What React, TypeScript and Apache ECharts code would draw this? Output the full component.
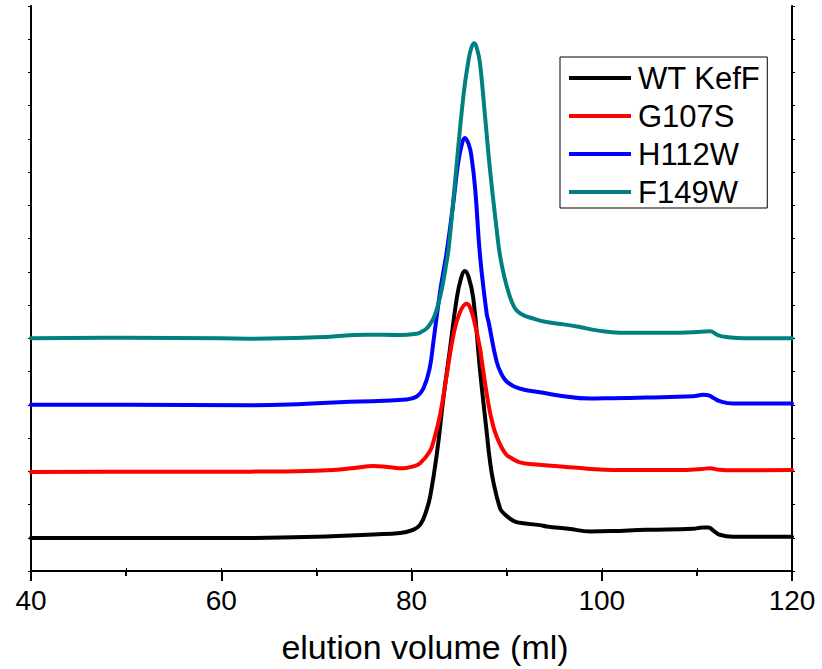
import React, { useEffect, useRef } from "react";
import * as echarts from "echarts";

const seriesNames = ["WT KefF", "G107S", "H112W", "F149W"];
const seriesColors = ["#000000", "#FF0000", "#0000FF", "#008080"];

const xTicks = [40, 60, 80, 100, 120];

const wtKefF: [number, number][] = [
  [40, 0.99], [50, 0.99], [60, 0.99], [65, 1.0], [70, 1.03], [73.5, 1.07], [76, 1.1],
  [78.8, 1.14], [80, 1.22], [80.9, 1.39], [81.6, 1.85], [82.0, 2.3], [82.65, 3.49],
  [83.35, 5.19], [84.05, 6.69], [84.75, 8.19], [85.2, 8.8], [85.6, 9.03], [86.0, 8.85],
  [86.5, 8.2], [87.2, 6.05], [87.9, 4.19], [88.25, 3.3], [88.6, 2.69], [89.3, 1.89],
  [89.65, 1.75], [90.7, 1.51], [91.4, 1.45], [93.5, 1.38], [94.2, 1.34], [96.5, 1.27],
  [98.8, 1.19], [101, 1.2], [104.7, 1.24], [109.6, 1.27], [110.6, 1.31], [111.2, 1.31],
  [111.8, 1.2], [112.4, 1.09], [113.8, 1.03], [116, 1.03], [120, 1.03],
];

const g107S: [number, number][] = [
  [40, 2.98], [50, 2.99], [60, 2.99], [63, 2.99], [68, 3.0], [71.8, 3.04], [74, 3.1],
  [76, 3.16], [77.5, 3.13], [79.1, 3.09], [80.2, 3.15], [80.9, 3.24], [81.9, 3.59],
  [82.3, 3.89], [83.0, 4.69], [83.7, 5.89], [84.4, 7.09], [85.1, 7.79], [85.8, 8.04],
  [86.2, 7.9], [86.7, 7.39], [87.2, 6.7], [87.4, 6.3], [88.1, 5.0], [88.6, 4.35],
  [88.95, 4.05], [89.5, 3.7], [90.0, 3.49], [90.35, 3.42], [91.4, 3.27], [92.8, 3.21],
  [96.0, 3.14], [98.5, 3.08], [101.2, 3.04], [105, 3.04], [108.2, 3.04], [110.5, 3.07],
  [111.4, 3.09], [112.2, 3.05], [113.1, 3.03], [120, 3.04],
];

const h112W: [number, number][] = [
  [40, 5.0], [50, 5.0], [63, 4.99], [68, 5.02], [73.5, 5.09], [79.5, 5.16], [80.55, 5.25],
  [81.25, 5.49], [81.9, 6.09], [82.3, 6.89], [83.0, 8.39], [83.7, 9.6], [84.4, 11.09],
  [84.9, 12.28], [85.3, 12.85], [85.6, 13.03], [86.0, 12.85], [86.3, 12.48], [86.7, 11.48],
  [87.2, 9.5], [87.9, 7.75], [88.1, 7.5], [88.95, 6.3], [89.5, 5.9], [90.0, 5.7],
  [90.8, 5.55], [91.75, 5.46], [93.5, 5.38], [95.3, 5.29], [98.8, 5.19], [101, 5.2],
  [104.7, 5.22], [109.6, 5.26], [110.7, 5.3], [111.2, 5.29], [111.8, 5.2], [112.4, 5.11],
  [113.8, 5.04], [120, 5.04],
];

const f149W: [number, number][] = [
  [40, 7.0], [50, 7.02], [60, 7.0], [63, 6.99], [70, 7.03], [75.3, 7.11], [78.8, 7.1],
  [80.55, 7.14], [81.0, 7.19], [81.6, 7.3], [82.0, 7.45], [82.4, 7.66], [82.8, 8.02],
  [83.2, 8.5], [83.6, 9.15], [83.9, 9.7], [84.6, 11.78], [85.45, 14.28], [86.0, 15.38],
  [86.3, 15.75], [86.6, 15.88], [86.9, 15.7], [87.2, 15.28], [87.7, 13.78], [88.25, 12.08],
  [88.95, 10.28], [89.3, 9.5], [89.8, 8.8], [90.35, 8.25], [90.8, 7.94], [91.2, 7.8],
  [91.8, 7.69], [92.5, 7.62], [94.2, 7.49], [96, 7.42], [97.7, 7.34], [99.5, 7.24],
  [101.9, 7.17], [105, 7.17], [108.2, 7.17], [110.5, 7.2], [111.4, 7.21], [112.2, 7.1],
  [113.1, 7.04], [115, 7.0], [120, 7.0],
];

const seriesData = [wtKefF, g107S, h112W, f149W];

const FONT = "Liberation Sans, Arial, sans-serif";

export default function App() {
  const ref = useRef<HTMLDivElement>(null);
  useEffect(() => {
    if (!ref.current) return;
    const chart = echarts.init(ref.current, undefined, { renderer: "svg" });
    const axisLine = { show: true, lineStyle: { color: "#000", width: 2 } };
    chart.setOption({
      animation: false,
      backgroundColor: "#fff",
      grid: { left: 31, right: 30, top: 6, bottom: 96, containLabel: false },
      legend: {
        orient: "vertical",
        left: 560,
        top: 57,
        icon: "rect",
        itemWidth: 62,
        itemHeight: 4,
        itemGap: 6,
        padding: [5, 7, 0, 9],
        borderColor: "#000",
        borderWidth: 1,
        textStyle: { fontSize: 31, fontFamily: FONT, color: "#000", lineHeight: 32, padding: [0, 0, 0, 2] },
        data: seriesNames,
      },
      xAxis: [
        {
          type: "value",
          min: xTicks[0],
          max: xTicks[xTicks.length - 1],
          interval: 20,
          position: "bottom",
          name: "elution volume (ml)",
          nameLocation: "middle",
          nameGap: 59,
          nameTextStyle: { fontSize: 34, fontFamily: FONT, color: "#000", padding: [0, 0, 0, 27] },
          axisLine,
          axisTick: { show: true, length: 10, lineStyle: { color: "#000", width: 2 } },
          minorTick: { show: true, splitNumber: 2, length: 5, lineStyle: { color: "#000", width: 2 } },
          axisLabel: { fontSize: 28, fontFamily: FONT, color: "#000", margin: 15 },
          splitLine: { show: false },
        },
        {
          type: "value",
          min: xTicks[0],
          max: xTicks[xTicks.length - 1],
          interval: 10,
          position: "top",
          axisLine,
          axisTick: { show: true, length: 3, lineStyle: { color: "#000", width: 1 } },
          axisLabel: { show: false },
          splitLine: { show: false },
        },
      ],
      yAxis: [
        {
          type: "value",
          min: 0,
          max: 17,
          interval: 1,
          position: "left",
          axisLine,
          axisTick: { show: true, length: 3, lineStyle: { color: "#000", width: 1 } },
          axisLabel: { show: false },
          splitLine: { show: false },
        },
        {
          type: "value",
          min: 0,
          max: 17,
          interval: 1,
          position: "right",
          axisLine,
          axisTick: { show: true, length: 3, lineStyle: { color: "#000", width: 1 } },
          axisLabel: { show: false },
          splitLine: { show: false },
        },
      ],
      series: seriesNames.map((name, i) => ({
        name,
        type: "line",
        data: seriesData[i],
        xAxisIndex: 0,
        yAxisIndex: 0,
        showSymbol: false,
        symbol: "none",
        smooth: 0.45,
        lineStyle: { color: seriesColors[i], width: 4, join: "round", cap: "round" },
        itemStyle: { color: seriesColors[i] },
        z: 2 + i,
      })),
    });
    return () => chart.dispose();
  }, []);
  return (
    <div
      ref={ref}
      style={{ position: "absolute", left: 0, top: 0, width: 822, height: 669 }}
    />
  );
}
